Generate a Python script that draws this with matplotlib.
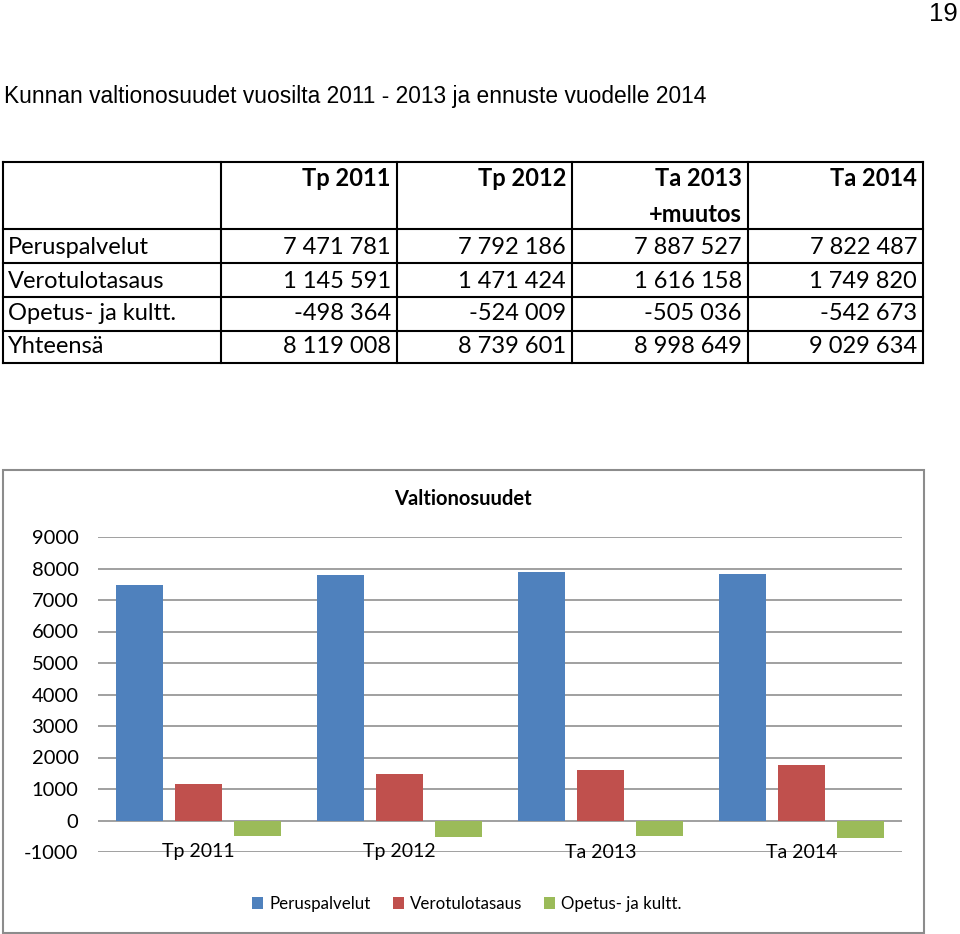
import matplotlib
matplotlib.use("Agg")
import matplotlib.pyplot as plt
from matplotlib.lines import Line2D
from matplotlib.patches import Rectangle, Patch
import numpy as np

# ---------------- data ----------------
page_number = "19"
page_title = "Kunnan valtionosuudet vuosilta 2011 - 2013 ja ennuste vuodelle 2014"
chart_title = "Valtionosuudet"
categories = ["Tp 2011", "Tp 2012", "Ta 2013", "Ta 2014"]
header_labels = ["Tp 2011", "Tp 2012", "Ta 2013\n+muutos", "Ta 2014"]
series_names = ["Peruspalvelut", "Verotulotasaus", "Opetus- ja kultt."]
peruspalvelut = [7471781, 7792186, 7887527, 7822487]
verotulotasaus = [1145591, 1471424, 1616158, 1749820]
opetus = [-498364, -524009, -505036, -542673]
total_label = "Yhteensä"
yhteensa = [8119008, 8739601, 8998649, 9029634]
y_ticks = [-1000, 0, 1000, 2000, 3000, 4000, 5000, 6000, 7000, 8000, 9000]
colors = ["#4F81BD", "#C0504D", "#9BBB59"]

W, H = 960, 934
fig = plt.figure(figsize=(W / 100, H / 100), dpi=100)
fig.patch.set_facecolor("white")


def fx(x):
    return x / W


def fy(y):
    return 1 - y / H


def fmt(v):
    return f"{v:,}".replace(",", " ")


ARIAL = ["Liberation Sans", "DejaVu Sans"]
CAL = ["Lato", "DejaVu Sans"]

# page number and title
fig.text(fx(958), fy(14), page_number, ha="right", va="center", fontsize=18.5, family=ARIAL)
fig.text(fx(4), fy(97), page_title, ha="left", va="center", fontsize=16.4, family=ARIAL)

# ---------------- table ----------------
row_lines = [162, 229, 263, 297, 331, 363]
col_lines = [3, 221, 397, 572, 748, 923]
lw_tab = 1.5
for y in row_lines:
    fig.add_artist(Line2D([fx(col_lines[0]), fx(col_lines[-1])], [fy(y), fy(y)],
                          transform=fig.transFigure, color="black", lw=lw_tab))
for x in col_lines:
    fig.add_artist(Line2D([fx(x), fx(x)], [fy(row_lines[0]), fy(row_lines[-1])],
                          transform=fig.transFigure, color="black", lw=lw_tab))

tab_fs = 17
for j, h in enumerate(header_labels):
    for k, part in enumerate(h.split("\n")):
        fig.text(fx(col_lines[j + 2] - 6), fy(178 + 36 * k), part, ha="right", va="center",
                 fontsize=tab_fs, fontweight="bold", family=CAL)

rows = [(series_names[0], peruspalvelut), (series_names[1], verotulotasaus),
        (series_names[2], opetus), (total_label, yhteensa)]
row_centers = [247, 281, 314, 347]
for (name, vals), yc in zip(rows, row_centers):
    fig.text(fx(8), fy(yc), name, ha="left", va="center", fontsize=tab_fs, family=CAL)
    for j, v in enumerate(vals):
        fig.text(fx(col_lines[j + 2] - 6), fy(yc), fmt(v), ha="right", va="center",
                 fontsize=tab_fs, family=CAL)

# ---------------- chart ----------------
fig.add_artist(Rectangle((fx(3), fy(933)), (924 - 3) / W, (933 - 470) / H,
                         transform=fig.transFigure, fill=False, edgecolor="#8c8c8c", lw=1.5))

ax = fig.add_axes([fx(98), fy(852), (902 - 98) / W, (852 - 537) / H])
ax.set_facecolor("none")
x = np.arange(len(categories))
width = 0.23
offset = 0.294
series = [peruspalvelut, verotulotasaus, opetus]
for i, (s, c, n) in enumerate(zip(series, colors, series_names)):
    ax.bar(x + (i - 1) * offset, np.array(s) / 1000.0, width=width, color=c, label=n, zorder=3)

ax.set_xlim(-0.5, len(categories) - 0.5)
ax.set_ylim(y_ticks[0], y_ticks[-1])
ax.set_yticks(y_ticks)
ax.set_yticklabels([str(t) for t in y_ticks], family=CAL, fontsize=14.5)
ax.yaxis.grid(True, color="#868686", lw=1.1, zorder=0)
ax.set_axisbelow(True)
ax.set_xticks([])
for sp in ax.spines.values():
    sp.set_visible(False)
ax.tick_params(axis="y", length=0, pad=14)
for i, cat in enumerate(categories):
    ax.text(i, y_ticks[0], cat, ha="center", va="center", fontsize=14, family=CAL, zorder=4)

fig.text(fx(463), fy(499), chart_title, ha="center", va="center", fontsize=14.5,
         fontweight="bold", family=CAL)

handles = [Patch(facecolor=c, edgecolor="none") for c in colors]
fig.legend(handles, series_names, loc="center", bbox_to_anchor=(fx(467), fy(904)), ncol=3,
           frameon=False, handlelength=0.65, handleheight=0.65, handletextpad=0.35,
           columnspacing=1.3, prop={"family": CAL, "size": 12.2})

fig.savefig("out.png", dpi=100, facecolor="white")
